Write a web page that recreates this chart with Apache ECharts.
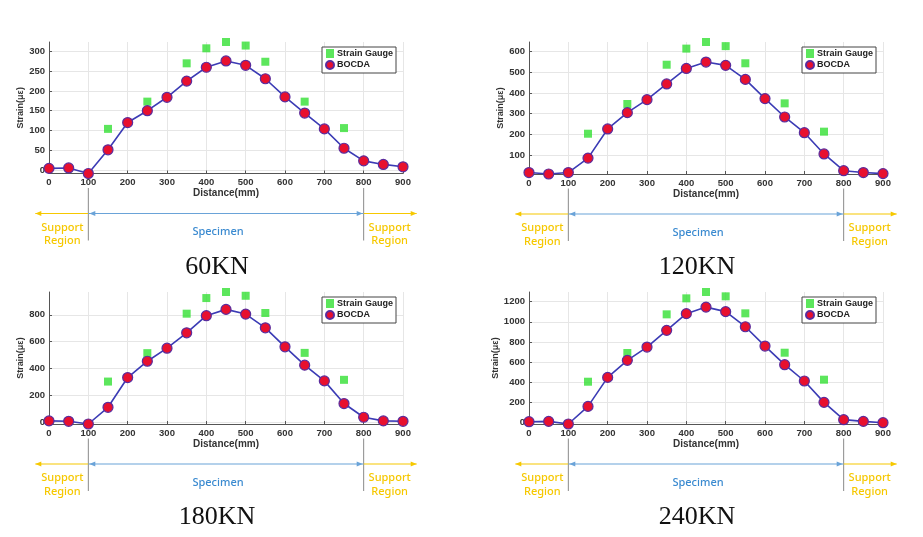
<!DOCTYPE html>
<html>
<head>
<meta charset="utf-8">
<script src="https://cdn.jsdelivr.net/npm/echarts@6/dist/echarts.min.js"></script>
<style>
html,body{margin:0;padding:0;background:#fff;}
#main{width:923px;height:537px;}
</style>
</head>
<body>
<div id="main"></div>
<script>
// ---- data ----
const distance = [0,50,100,150,200,250,300,350,400,450,500,550,600,650,700,750,800,850,900];
const gaugeDistance = [150,250,350,400,450,500,550,650,750];

const bocda60  = [4,5,-9,51,120,150,184,225,260,276,265,231,185,144,104,55,23,14,8];
const gauge60  = [104,173,270,308,324,315,274,173,106];
const bocda120 = [15,8,15,85,226,305,368,444,519,550,534,466,373,284,208,105,24,15,10];
const gauge120 = [203,347,537,615,647,627,544,350,213];
const bocda180 = [12,9,-11,113,334,455,552,666,793,840,805,703,562,426,309,141,39,12,9];
const gauge180 = [304,515,808,924,969,941,813,517,317];
const bocda240 = [8,11,-15,160,448,617,749,915,1081,1146,1101,951,759,574,412,200,28,11,-2];
const gauge240 = [405,690,1074,1233,1296,1253,1084,693,425];

const panelTitles = ['60KN','120KN','180KN','240KN'];
const yTicks60  = [0,50,100,150,200,250,300];
const yTicks120 = [100,200,300,400,500,600];
const yTicks180 = [0,200,400,600,800];
const yTicks240 = [0,200,400,600,800,1000,1200];
const regionBounds = [100, 800];

const seriesB = [bocda60,bocda120,bocda180,bocda240];
const seriesG = [gauge60,gauge120,gauge180,gauge240];
const yTickSets = [yTicks60,yTicks120,yTicks180,yTicks240];
const yRanges = [[-9,324],[8,647],[-11,969],[-15,1296]];

// ---- layout ----
const lefts = [49,529,49,529];
const tops = [42,42,292,292];
const heights = [131.5,132,132,132];
const gridW = 354;
const yNameGaps = [17,17,17,20];

const labelFont = {fontFamily:'Liberation Sans, Arial, sans-serif', fontWeight:'bold', color:'#333'};

const grids = [], xAxes = [], yAxes = [], series = [], legends = [];
for (let i=0;i<4;i++){
  grids.push({left:lefts[i], top:tops[i], width:gridW, height:heights[i], containLabel:false});
  xAxes.push({
    type:'value', gridIndex:i, min:0, max:900, interval:100,
    name:'Distance(mm)', nameLocation:'middle', nameGap:15,
    nameTextStyle:Object.assign({fontSize:10}, labelFont),
    axisLine:{show:true, onZero:false, lineStyle:{color:'#555', width:1}},
    axisTick:{show:true, inside:true, length:3, lineStyle:{color:'#555'}},
    axisLabel:Object.assign({fontSize:9.5, margin:4, formatter:v=>String(v)}, labelFont),
    splitLine:{show:true, lineStyle:{color:'#e6e6e6', width:1}}
  });
  yAxes.push({
    type:'value', gridIndex:i, min:yRanges[i][0], max:yRanges[i][1],
    name:'Strain(με)', nameLocation:'middle', nameGap:yNameGaps[i],
    nameTextStyle:Object.assign({fontSize:9}, labelFont),
    axisLine:{show:true, onZero:false, lineStyle:{color:'#555', width:1}},
    axisTick:{show:true, inside:true, length:3, lineStyle:{color:'#555'}, customValues:yTickSets[i]},
    axisLabel:Object.assign({fontSize:9.5, margin:4, customValues:yTickSets[i], formatter:v=>String(v)}, labelFont),
    splitLine:{show:true, lineStyle:{color:'#e6e6e6', width:1}}
  });
  series.push({
    name:'Strain Gauge', type:'scatter', xAxisIndex:i, yAxisIndex:i,
    symbol:'rect', symbolSize:8, clip:false,
    itemStyle:{color:'#33e033'},
    data: gaugeDistance.map((d,k)=>[d, seriesG[i][k]]),
    z:3
  });
  series.push({
    name:'BOCDA', type:'line', xAxisIndex:i, yAxisIndex:i,
    symbol:'circle', symbolSize:10, clip:false, showAllSymbol:true,
    lineStyle:{color:'#3b3bb5', width:1.6},
    itemStyle:{color:'#e8102e', borderColor:'#5a2d9e', borderWidth:1.2},
    data: distance.map((d,k)=>[d, seriesB[i][k]]),
    z:4
  });
  legends.push({
    left: lefts[i] + 273, top: tops[i] + 5,
    orient:'vertical', itemGap:2, itemWidth:8, itemHeight:9,
    padding:[2,3,3,3], backgroundColor:'#fff', borderColor:'#444', borderWidth:1, borderRadius:0,
    selectedMode:false,
    textStyle:{fontSize:9, fontWeight:'bold', color:'#222', fontFamily:'Liberation Sans, Arial, sans-serif', padding:[0,0,0,-2]},
    data:[{name:'Strain Gauge', icon:'rect'},{name:'BOCDA', icon:'circle'}]
  });
}

const chart = echarts.init(document.getElementById('main'), null, {renderer:'canvas'});
chart.setOption({
  backgroundColor:'#fff',
  animation:false,
  grid:grids, xAxis:xAxes, yAxis:yAxes, series:series, legend:legends
});

// ---- annotations (positioned from the axes) ----
const yellow = '#f6c800', blue = '#6aa3d8', blueText = '#3a8ad0';
const gfx = [];
function arrowHead(x, y, dir, color){
  return {type:'polygon', shape:{points:[[x,y],[x-dir*6,y-2.5],[x-dir*6,y+2.5]]}, style:{fill:color}, silent:true};
}
for (let i=0;i<4;i++){
  const x1 = chart.convertToPixel({xAxisIndex:i}, regionBounds[0]);
  const x2 = chart.convertToPixel({xAxisIndex:i}, regionBounds[1]);
  const yb = chart.convertToPixel({yAxisIndex:i}, yRanges[i][0]);
  const ay = yb + 40;
  [x1,x2].forEach(x=>gfx.push({type:'line', shape:{x1:x,y1:yb+14.5,x2:x,y2:yb+67}, style:{stroke:'#8a8a8a', lineWidth:1}, silent:true}));
  gfx.push({type:'line', shape:{x1:x1-53,y1:ay,x2:x1,y2:ay}, style:{stroke:yellow, lineWidth:1.2}, silent:true});
  gfx.push(arrowHead(x1-53, ay, -1, yellow));
  gfx.push({type:'line', shape:{x1:x1,y1:ay,x2:x2,y2:ay}, style:{stroke:blue, lineWidth:1.2}, silent:true});
  gfx.push(arrowHead(x1+1, ay, -1, blue));
  gfx.push(arrowHead(x2-1, ay, 1, blue));
  gfx.push({type:'line', shape:{x1:x2,y1:ay,x2:x2+53,y2:ay}, style:{stroke:yellow, lineWidth:1.2}, silent:true});
  gfx.push(arrowHead(x2+53, ay, 1, yellow));
  const tf = 'Noto Sans, Open Sans, sans-serif';
  [x1-26, x2+26].forEach(cx=>{
    gfx.push({type:'text', x:cx, y:yb+54, style:{text:'Support', fill:yellow, font:'500 11px '+tf, textAlign:'center', textVerticalAlign:'middle'}, silent:true});
    gfx.push({type:'text', x:cx, y:yb+67.5, style:{text:'Region', fill:yellow, font:'500 11px '+tf, textAlign:'center', textVerticalAlign:'middle'}, silent:true});
  });
  gfx.push({type:'text', x:(x1+x2)/2-8, y:yb+58.5, style:{text:'Specimen', fill:blueText, font:'500 11px '+tf, textAlign:'center', textVerticalAlign:'middle'}, silent:true});
  gfx.push({type:'text', x:(x1+x2)/2-9, y:yb+93.5, style:{text:panelTitles[i], fill:'#111', font:'26px Liberation Serif, DejaVu Serif, serif', textAlign:'center', textVerticalAlign:'middle'}, silent:true});
}
chart.setOption({graphic:{elements:gfx}});
</script>
</body>
</html>
